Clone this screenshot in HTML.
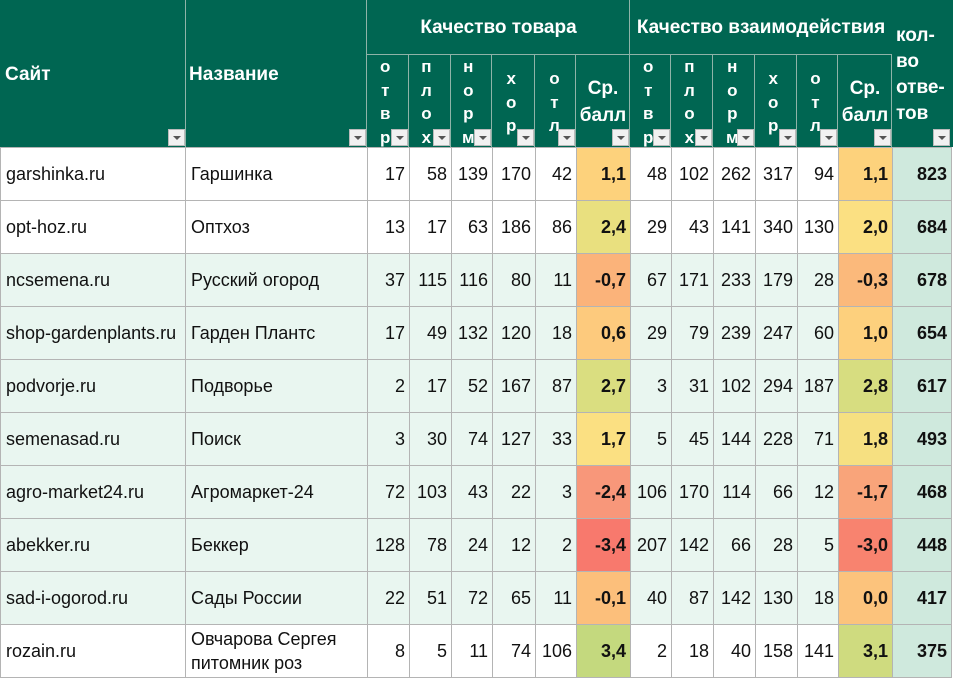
<!DOCTYPE html>
<html><head><meta charset="utf-8"><style>
*{margin:0;padding:0;box-sizing:border-box}
body{width:953px;height:681px;overflow:hidden;background:#fff;font-family:"Liberation Sans",Arial,sans-serif;position:relative}
.hd{position:absolute;top:0;height:147px;background:#006652;border-right:1px solid #8fb3a8}
.t{position:absolute;color:#fff;font-weight:bold;font-size:19px;white-space:nowrap}
.v{position:absolute;color:#fff;font-weight:bold;font-size:17px;line-height:23.5px;text-align:center}
.fb{position:absolute;top:129px;width:17px;height:17px;background:#f1f1f1;border:1px solid #bbb}
.fb:after{content:"";position:absolute;left:4px;top:6px;border-left:4px solid transparent;border-right:4px solid transparent;border-top:4px solid #555}
table{position:absolute;left:0;top:147px;border-collapse:collapse;table-layout:fixed;width:951px;font-size:18px;color:#111}
td{height:53px;border:1px solid #b4b4b4;text-align:right;padding:0 4px;white-space:nowrap;overflow:hidden}
td.l{text-align:left;padding-left:5px}
td.b{font-weight:bold}
tr.m td{background:#e9f6f0}
td.k{background:#cfe9dd !important;font-weight:bold}
</style></head><body>
<div class="hd" style="left:0;width:186px"></div>
<div class="hd" style="left:186px;width:181px"></div>
<div class="hd" style="left:367px;width:263px;height:55px;border-bottom:1px solid #8fb3a8"></div>
<div class="hd" style="left:630px;width:263px;height:55px;border-bottom:1px solid #8fb3a8"></div>
<div class="hd" style="left:892px;width:61px;border-right:none"></div>
<div class="t" style="left:367px;width:263px;top:17px;text-align:center">Качество товара</div>
<div class="t" style="left:630px;width:262px;top:17px;text-align:center">Качество взаимодействия</div>
<div class="t" style="left:5px;top:64px">Сайт</div>
<div class="t" style="left:189px;top:64px">Название</div>
<div class="t" style="left:896px;top:23px;line-height:26px">кол-<br>во<br>отве-<br>тов</div>

<div class="hd" style="left:367px;top:55px;height:92px;width:42px"></div>
<div class="hd" style="left:409px;top:55px;height:92px;width:42px"></div>
<div class="hd" style="left:451px;top:55px;height:92px;width:41px"></div>
<div class="hd" style="left:492px;top:55px;height:92px;width:43px"></div>
<div class="hd" style="left:535px;top:55px;height:92px;width:41px"></div>
<div class="hd" style="left:576px;top:55px;height:92px;width:54px"></div>
<div class="hd" style="left:630px;top:55px;height:92px;width:41px"></div>
<div class="hd" style="left:671px;top:55px;height:92px;width:42px"></div>
<div class="hd" style="left:713px;top:55px;height:92px;width:42px"></div>
<div class="hd" style="left:755px;top:55px;height:92px;width:42px"></div>
<div class="hd" style="left:797px;top:55px;height:92px;width:41px"></div>
<div class="hd" style="left:838px;top:55px;height:92px;width:54px"></div>

<div class="v" style="left:380px;top:55px">о<br>т<br>в<br>р</div>
<div class="v" style="left:421px;top:55px">п<br>л<br>о<br>х</div>
<div class="v" style="left:462px;top:55px">н<br>о<br>р<br>м</div>
<div class="v" style="left:506px;top:67px">х<br>о<br>р</div>
<div class="v" style="left:549px;top:67px">о<br>т<br>л</div>
<div class="t" style="left:576px;width:54px;top:75px;text-align:center;line-height:27px">Ср.<br>балл</div>
<div class="v" style="left:643px;top:55px">о<br>т<br>в<br>р</div>
<div class="v" style="left:684px;top:55px">п<br>л<br>о<br>х</div>
<div class="v" style="left:726px;top:55px">н<br>о<br>р<br>м</div>
<div class="v" style="left:768px;top:67px">х<br>о<br>р</div>
<div class="v" style="left:810px;top:67px">о<br>т<br>л</div>
<div class="t" style="left:838px;width:54px;top:75px;text-align:center;line-height:27px">Ср.<br>балл</div>

<div class="fb" style="left:168px"></div>
<div class="fb" style="left:349px"></div>
<div class="fb" style="left:391px"></div>
<div class="fb" style="left:433px"></div>
<div class="fb" style="left:474px"></div>
<div class="fb" style="left:517px"></div>
<div class="fb" style="left:558px"></div>
<div class="fb" style="left:612px"></div>
<div class="fb" style="left:653px"></div>
<div class="fb" style="left:695px"></div>
<div class="fb" style="left:737px"></div>
<div class="fb" style="left:779px"></div>
<div class="fb" style="left:820px"></div>
<div class="fb" style="left:874px"></div>
<div class="fb" style="left:933px"></div>

<table>
<colgroup><col style="width:185px"><col style="width:182px"><col style="width:42px"><col style="width:42px"><col style="width:41px"><col style="width:43px"><col style="width:41px"><col style="width:54px"><col style="width:41px"><col style="width:42px"><col style="width:42px"><col style="width:42px"><col style="width:41px"><col style="width:54px"><col style="width:59px"></colgroup>
<tr><td class="l">garshinka.ru</td><td class="l">Гаршинка</td><td>17</td><td>58</td><td>139</td><td>170</td><td>42</td><td class="b" style="background:#fdd27c">1,1</td><td>48</td><td>102</td><td>262</td><td>317</td><td>94</td><td class="b" style="background:#fdd27c">1,1</td><td class="k">823</td></tr>
<tr><td class="l">opt-hoz.ru</td><td class="l">Оптхоз</td><td>13</td><td>17</td><td>63</td><td>186</td><td>86</td><td class="b" style="background:#e9e07f">2,4</td><td>29</td><td>43</td><td>141</td><td>340</td><td>130</td><td class="b" style="background:#fbe082">2,0</td><td class="k">684</td></tr>
<tr class="m"><td class="l">ncsemena.ru</td><td class="l">Русский огород</td><td>37</td><td>115</td><td>116</td><td>80</td><td>11</td><td class="b" style="background:#fbb37a!important">-0,7</td><td>67</td><td>171</td><td>233</td><td>179</td><td>28</td><td class="b" style="background:#fbb97b!important">-0,3</td><td class="k">678</td></tr>
<tr class="m"><td class="l">shop-gardenplants.ru</td><td class="l">Гарден Плантс</td><td>17</td><td>49</td><td>132</td><td>120</td><td>18</td><td class="b" style="background:#fdca7d!important">0,6</td><td>29</td><td>79</td><td>239</td><td>247</td><td>60</td><td class="b" style="background:#fdd07d!important">1,0</td><td class="k">654</td></tr>
<tr class="m"><td class="l">podvorje.ru</td><td class="l">Подворье</td><td>2</td><td>17</td><td>52</td><td>167</td><td>87</td><td class="b" style="background:#dade80!important">2,7</td><td>3</td><td>31</td><td>102</td><td>294</td><td>187</td><td class="b" style="background:#d7dd80!important">2,8</td><td class="k">617</td></tr>
<tr class="m"><td class="l">semenasad.ru</td><td class="l">Поиск</td><td>3</td><td>30</td><td>74</td><td>127</td><td>33</td><td class="b" style="background:#fbe082!important">1,7</td><td>5</td><td>45</td><td>144</td><td>228</td><td>71</td><td class="b" style="background:#f6e081!important">1,8</td><td class="k">493</td></tr>
<tr class="m"><td class="l">agro-market24.ru</td><td class="l">Агромаркет-24</td><td>72</td><td>103</td><td>43</td><td>22</td><td>3</td><td class="b" style="background:#f8977a!important">-2,4</td><td>106</td><td>170</td><td>114</td><td>66</td><td>12</td><td class="b" style="background:#f9a47a!important">-1,7</td><td class="k">468</td></tr>
<tr class="m"><td class="l">abekker.ru</td><td class="l">Беккер</td><td>128</td><td>78</td><td>24</td><td>12</td><td>2</td><td class="b" style="background:#f8796d!important">-3,4</td><td>207</td><td>142</td><td>66</td><td>28</td><td>5</td><td class="b" style="background:#f8836f!important">-3,0</td><td class="k">448</td></tr>
<tr class="m"><td class="l">sad-i-ogorod.ru</td><td class="l">Сады России</td><td>22</td><td>51</td><td>72</td><td>65</td><td>11</td><td class="b" style="background:#fcbf7b!important">-0,1</td><td>40</td><td>87</td><td>142</td><td>130</td><td>18</td><td class="b" style="background:#fcc37c!important">0,0</td><td class="k">417</td></tr>
<tr><td class="l">rozain.ru</td><td class="l" style="line-height:24px">Овчарова Сергея<br>питомник роз</td><td>8</td><td>5</td><td>11</td><td>74</td><td>106</td><td class="b" style="background:#c4d97e">3,4</td><td>2</td><td>18</td><td>40</td><td>158</td><td>141</td><td class="b" style="background:#cfdb7f">3,1</td><td class="k">375</td></tr>
</table>
</body></html>
